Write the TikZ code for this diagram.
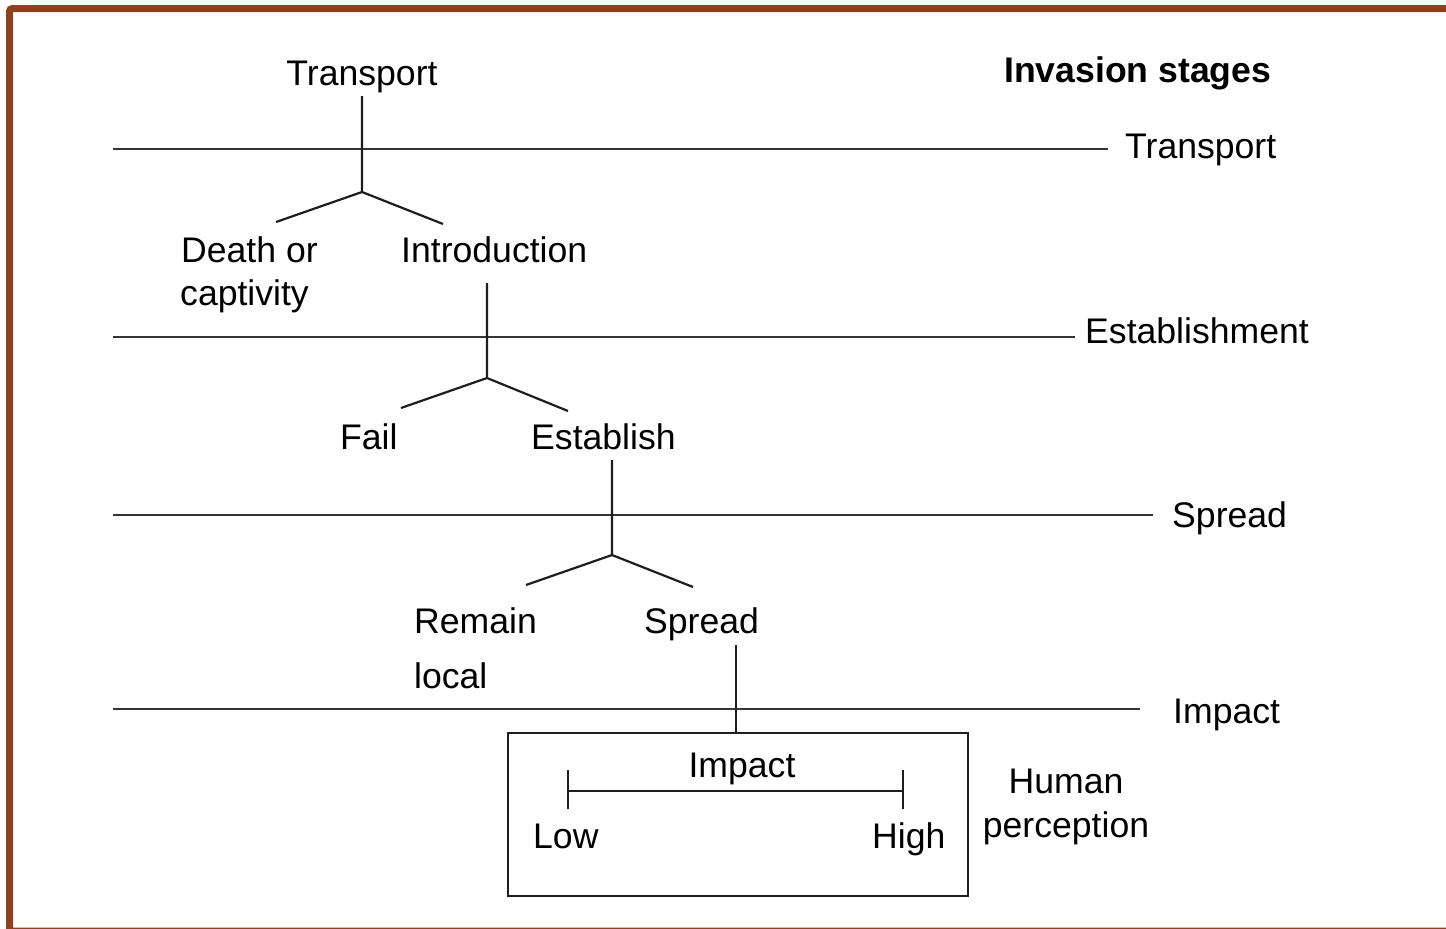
\documentclass[tikz,border=0pt]{standalone}
\usepackage{fontspec}
\setmainfont{Liberation Sans}
\definecolor{framebrown}{RGB}{140,66,34}
\definecolor{ink}{RGB}{30,30,30}
\begin{document}
\begin{tikzpicture}[x=1pt,y=-1pt,
  lbl/.style={anchor=base west,inner sep=0pt,font=\fontsize{35.6}{42}\selectfont,text=black},
  lblc/.style={lbl,anchor=base},
  wire/.style={draw=ink,line width=2.2pt},
  stage/.style={draw=ink!90,line width=2.4pt}]
\useasboundingbox (0,0) rectangle (1446,929);
% outer frame
\begin{scope}
\clip (0,0) rectangle (1446,929);
\draw[framebrown,line width=7pt,rounded corners=3pt] (9.5,8.5) rectangle (1470,931);
\end{scope}

% heading
\node[lbl,font=\bfseries\fontsize{35.6}{42}\selectfont] (head) at (1004,82) {Invasion stages};

% stage labels on the right
\node[lbl] (sTransport) at (1125,158) {Transport};
\node[lbl] (sEstab) at (1085,343) {Establishment};
\node[lbl] (sSpread) at (1172,527) {Spread};
\node[lbl] (sImpact) at (1173,723) {Impact};

% stage boundary lines
\coordinate (lT) at (113,149);  \coordinate (rT) at (1108,149);
\coordinate (lE) at (113,337);  \coordinate (rE) at (1075,337);
\coordinate (lS) at (113,515);  \coordinate (rS) at (1153,515);
\coordinate (lI) at (113,709);  \coordinate (rI) at (1140,709);
\draw[stage] (lT) -- (rT);
\draw[stage] (lE) -- (rE);
\draw[stage] (lS) -- (rS);
\draw[stage] (lI) -- (rI);

% outcome labels
\node[lblc] (transport) at (362,85) {Transport};
\node[lbl] (death) at (181,262) {Death or};
\node[lbl] (captivity) at (180,305) {captivity};
\node[lbl] (intro) at (401,262) {Introduction};
\node[lbl] (fail) at (340,449) {Fail};
\node[lbl] (establish) at (531,449) {Establish};
\node[lbl] (remain) at (414,633) {Remain};
\node[lbl] (local) at (414,688) {local};
\node[lbl] (spread) at (644,633) {Spread};

% branching points
\coordinate (t0) at (362,96);  \coordinate (tj) at (362,192);
\coordinate (tl) at (276,222); \coordinate (tr) at (443,224);
\coordinate (i0) at (487,283); \coordinate (ij) at (487,378);
\coordinate (il) at (401,408); \coordinate (ir) at (568,411);
\coordinate (e0) at (612,460); \coordinate (ej) at (612,555);
\coordinate (el) at (526,585); \coordinate (er) at (693,587);
\coordinate (s0) at (736,645);

\draw[wire] (t0) -- (tj) (tl) -- (tj) -- (tr);
\draw[wire] (i0) -- (ij) (il) -- (ij) -- (ir);
\draw[wire] (e0) -- (ej) (el) -- (ej) -- (er);

% human perception box
\node[draw=ink,line width=2.2pt,minimum width=460pt,minimum height=163pt,inner sep=0pt,anchor=north west] (box) at (507,732) {};
\draw[wire] (s0) -- (s0 |- box.north);

\node[lblc] (impact) at (742,777) {Impact};
\node[lbl] (low) at (533,848) {Low};
\node[lbl] (high) at (872,848) {High};
\coordinate (lo) at (568,791); \coordinate (hi) at (903,791);
\draw[wire] (lo) -- (hi);
\draw[wire] ([yshift=-18pt]lo) -- ([yshift=21pt]lo);
\draw[wire] ([yshift=-18pt]hi) -- ([yshift=21pt]hi);

\node[lblc] (human) at (1066,793) {Human};
\node[lblc] (perception) at (1066,837) {perception};
\end{tikzpicture}
\end{document}
